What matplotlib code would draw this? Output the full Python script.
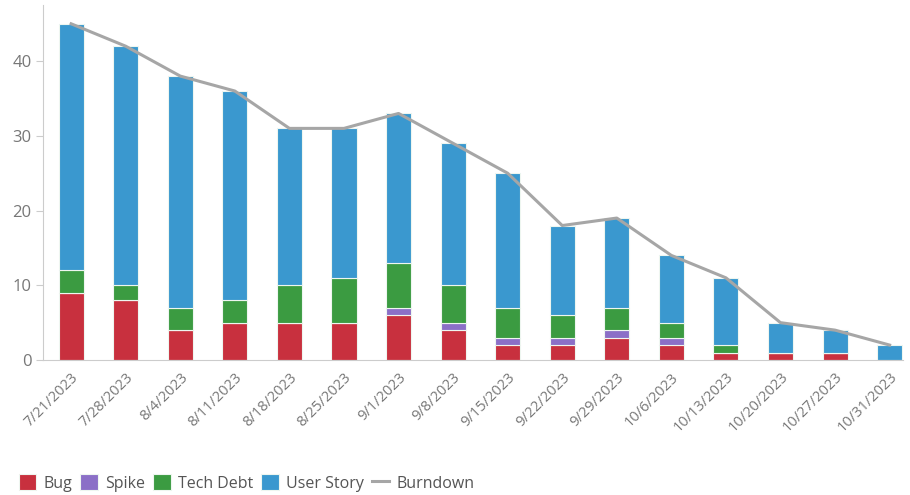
import matplotlib.pyplot as plt
import numpy as np

plt.rcParams['font.family'] = ['Open Sans', 'DejaVu Sans']

dates = ['7/21/2023', '7/28/2023', '8/4/2023', '8/11/2023', '8/18/2023',
         '8/25/2023', '9/1/2023', '9/8/2023', '9/15/2023', '9/22/2023',
         '9/29/2023', '10/6/2023', '10/13/2023', '10/20/2023', '10/27/2023',
         '10/31/2023']
bug = [9, 8, 4, 5, 5, 5, 6, 4, 2, 2, 3, 2, 1, 1, 1, 0]
spike = [0, 0, 0, 0, 0, 0, 1, 1, 1, 1, 1, 1, 0, 0, 0, 0]
tech_debt = [3, 2, 3, 3, 5, 6, 6, 5, 4, 3, 3, 2, 1, 0, 0, 0]
user_story = [33, 32, 31, 28, 21, 20, 20, 19, 18, 12, 12, 9, 9, 4, 3, 2]
burndown = [45, 42, 38, 36, 31, 31, 33, 29, 25, 18, 19, 14, 11, 5, 4, 2]

series = [('Bug', bug, '#c8303e'),
          ('Spike', spike, '#8b6fc7'),
          ('Tech Debt', tech_debt, '#3b9b41'),
          ('User Story', user_story, '#3a98cf')]

fig = plt.figure(figsize=(9.1, 4.95), dpi=100)
ax = fig.add_axes([0.047, 0.2727, 0.945, 0.717])

x = np.arange(len(dates))
bottom = np.zeros(len(dates))
for name, vals, color in series:
    vals = np.array(vals)
    ax.bar(x, vals, 0.46, bottom=bottom, color=color, label=name,
           edgecolor='#eef6f0', linewidth=0.8)
    bottom += vals

ax.plot(x, burndown, color='#a6a6a6', linewidth=2.2, label='Burndown')

ax.set_xlim(-0.52, 15.24)
ax.set_ylim(0, 47.5)
ax.set_yticks([0, 10, 20, 30, 40])
ax.set_xticks(x)
ax.set_xticklabels(dates, rotation=45, ha='right', rotation_mode='anchor')
ax.tick_params(axis='x', length=0, pad=7, labelsize=10.5, labelcolor='#777777')
ax.tick_params(axis='y', length=5, color='#cccccc', labelsize=12,
               labelcolor='#777777', pad=3)
for s in ['top', 'right']:
    ax.spines[s].set_visible(False)
ax.spines['left'].set_color('#cccccc')
ax.spines['bottom'].set_color('#cccccc')

handles, labels = ax.get_legend_handles_labels()
order = [1, 2, 3, 4, 0]
fig.legend([handles[i] for i in order], [labels[i] for i in order],
           loc='lower left', bbox_to_anchor=(0.005, -0.022), ncol=5,
           frameon=False, fontsize=11.5, handlelength=1.1, handleheight=1.1,
           handletextpad=0.45, columnspacing=0.5, labelcolor='#555555')

fig.savefig('out.png')
